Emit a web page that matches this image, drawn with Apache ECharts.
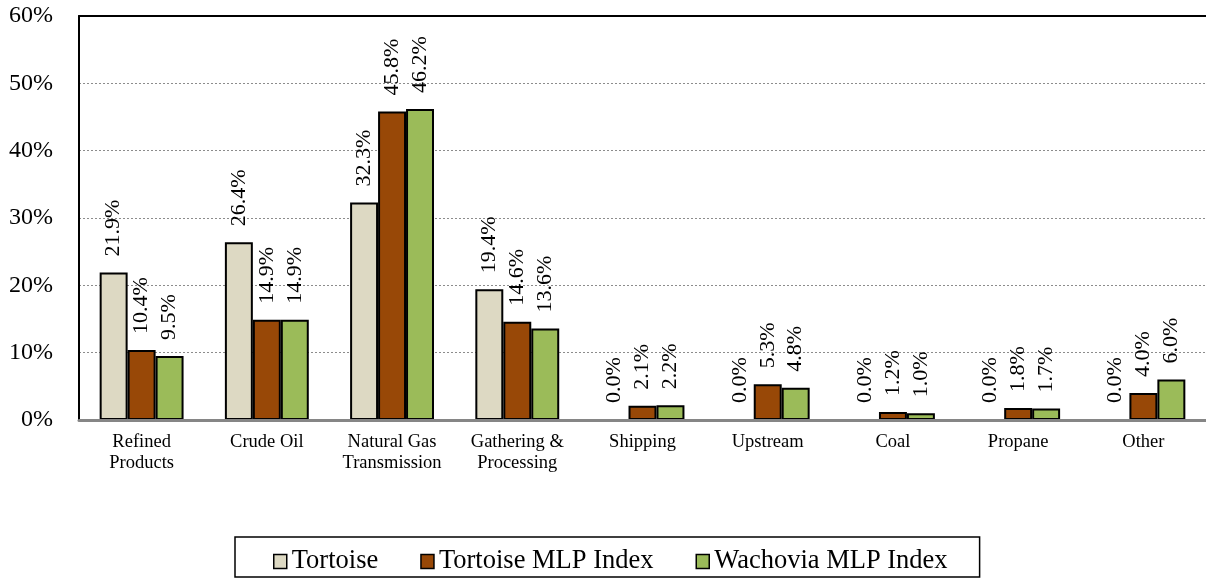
<!DOCTYPE html>
<html>
<head>
<meta charset="utf-8">
<script src="https://cdn.jsdelivr.net/npm/echarts@6/dist/echarts.min.js"></script>
<style>
  html, body { margin: 0; padding: 0; background: #fff; }
  #chart { width: 1206px; height: 578px; }
</style>
</head>
<body>
<div id="chart"></div>
<script>
// categories (x axis)
const categories = ['Refined\nProducts', 'Crude Oil', 'Natural Gas\nTransmission', 'Gathering &\nProcessing',
  'Shipping', 'Upstream', 'Coal', 'Propane', 'Other'];

// series values, in percent
const tortoise = [21.9, 26.4, 32.3, 19.4, 0.0, 0.0, 0.0, 0.0, 0.0];
const tortoiseMlp = [10.4, 14.9, 45.8, 14.6, 2.1, 5.3, 1.2, 1.8, 4.0];
const wachoviaMlp = [9.5, 14.9, 46.2, 13.6, 2.2, 4.8, 1.0, 1.7, 6.0];

const seriesNames = ['Tortoise', 'Tortoise MLP Index', 'Wachovia MLP Index'];
const colors = ['#DDD9C3', '#984807', '#9BBB59'];

const serif = "'Liberation Serif', 'Times New Roman', serif";

// rotated value label on top of each bar
const barLabel = {
  show: true,
  position: 'top',
  rotate: 90,
  align: 'left',
  verticalAlign: 'middle',
  distance: 16,
  color: '#000',
  fontFamily: serif,
  fontSize: 22,
  formatter: p => p.value.toFixed(1) + '%'
};

function makeSeries(name, data, color) {
  return {
    name: name,
    type: 'bar',
    data: data,
    barGap: '0%',
    barCategoryGap: '33%',
    itemStyle: { color: color, borderColor: '#000', borderWidth: 2 },
    label: barLabel
  };
}

const chart = echarts.init(document.getElementById('chart'));
chart.setOption({
  animation: false,
  grid: { left: 79, right: 0, top: 16, bottom: 158 },
  legend: {
    left: 235,
    top: 537,
    data: seriesNames,
    icon: 'rect',
    itemWidth: 13,
    itemHeight: 14,
    itemGap: 42,
    padding: [11, 32, 2, 38],
    borderColor: '#000',
    borderWidth: 1.5,
    textStyle: { fontFamily: serif, fontSize: 26.5, color: '#000', lineHeight: 26 },
    itemStyle: { borderColor: '#000', borderWidth: 1.5 }
  },
  xAxis: [{
    type: 'category',
    data: categories,
    z: 5,
    axisLine: { lineStyle: { color: '#868686', width: 3 } },
    axisTick: { show: false },
    axisLabel: {
      interval: 0,
      margin: 12,
      color: '#000',
      fontFamily: serif,
      fontSize: 18.5,
      lineHeight: 21
    }
  }, {
    // top border of the plot area
    type: 'category',
    position: 'top',
    data: categories,
    axisLine: { lineStyle: { color: '#000', width: 2 } },
    axisTick: { show: false },
    axisLabel: { show: false }
  }],
  yAxis: {
    type: 'value',
    min: 0,
    max: 60,
    interval: 10,
    axisLine: { show: true, lineStyle: { color: '#000', width: 2 } },
    axisTick: { show: false },
    axisLabel: {
      formatter: '{value}%',
      margin: 26,
      color: '#000',
      fontFamily: serif,
      fontSize: 24
    },
    splitLine: { lineStyle: { color: '#8c8c8c', width: 1, type: [2, 2] } }
  },
  series: [
    makeSeries(seriesNames[0], tortoise, colors[0]),
    makeSeries(seriesNames[1], tortoiseMlp, colors[1]),
    makeSeries(seriesNames[2], wachoviaMlp, colors[2])
  ]
});
</script>
</body>
</html>
